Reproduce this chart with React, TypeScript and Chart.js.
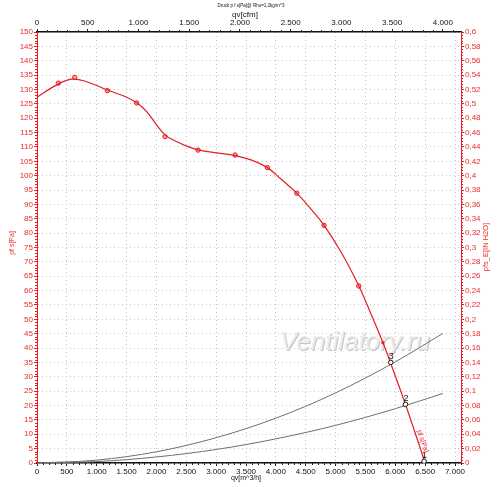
import React, { useEffect, useRef } from 'react';
import { Chart, registerables } from 'chart.js';

Chart.register(...registerables);

// ---- data ----
const curveFlow = [0, 330, 581, 832, 1178, 1502, 1670, 1837, 2005, 2144, 2283, 2507, 2700, 3010, 3317, 3596, 3858, 4070, 4350, 4573, 4807, 5103, 5389, 5600, 5790, 6000, 6200, 6500];
const curvePressure = [127.3, 131.6, 133.6, 132.7, 129.8, 127.3, 125.4, 122.3, 117.6, 114.2, 112.4, 110.3, 109.0, 107.9, 107.0, 105.4, 102.8, 99.1, 93.9, 88.7, 82.7, 73.0, 61.6, 51.5, 42.0, 30.3, 18.6, 0];

const measFlow = [357, 631, 1178, 1670, 2144, 2697, 3317, 3858, 4350, 4807, 5389];
const measPressure = [132.2, 134.2, 129.6, 125.3, 113.6, 108.9, 107.2, 102.8, 93.9, 82.7, 61.6];

const extraFlow = [5790];
const extraPressure = [41.9];

const sysFlow = [0, 1000, 2000, 3000, 4000, 5000, 6000, 6796];
const sysHigh = [0, 1.0, 3.9, 8.8, 15.6, 24.4, 35.2, 45.1];
const sysLow = [0, 0.5, 2.1, 4.7, 8.4, 13.1, 18.9, 24.2];

const opFlow = [6482, 6170, 5924];
const opPressure = [0.6, 20.4, 35.0];
const opLabels = ['1', '2', '3'];

// tick values
const flowTicks = [0, 500, 1000, 1500, 2000, 2500, 3000, 3500, 4000, 4500, 5000, 5500, 6000, 6500, 7000];
const cfmTicks = [0, 500, 1000, 1500, 2000, 2500, 3000, 3500, 4000];
const paTicks = [0, 5, 10, 15, 20, 25, 30, 35, 40, 45, 50, 55, 60, 65, 70, 75, 80, 85, 90, 95, 100, 105, 110, 115, 120, 125, 130, 135, 140, 145, 150];
const inTicks = [0, 0.02, 0.04, 0.06, 0.08, 0.1, 0.12, 0.14, 0.16, 0.18, 0.2, 0.22, 0.24, 0.26, 0.28, 0.3, 0.32, 0.34, 0.36, 0.38, 0.4, 0.42, 0.44, 0.46, 0.48, 0.5, 0.52, 0.54, 0.56, 0.58, 0.6];

// axes
const FLOW_MAX = 7100; // m^3/h
const M3H_PER_CFM = 1.699;
const CFM_MAX = FLOW_MAX / M3H_PER_CFM;
const PA_MAX = 150;
const INH2O_MAX = 0.6;

const titleText = 'Druck p f s[Pa]@ Rho=1,2kg/m^3';
const topTitle = 'qv[cfm]';
const bottomTitle = 'qv[m^3/h]';
const leftTitle = 'pf s[Pa]';
const rightTitle = 'pfs_E[IN H2O]';
const lineTag = 'pf s[Pa]';
const watermark = 'Ventilatory.ru';

const RED = '#e31e24';
const RED_TXT = '#ee2a2a';
const FONT = "'Liberation Sans', Arial, sans-serif";

const pts = (xs: number[], ys: number[]) => xs.map((x, i) => ({ x, y: ys[i] }));
const setTicks = (vals: number[]) => (s: any) => { s.ticks = vals.map((value) => ({ value })); };

const fmtThousands = (v: number) => {
  const n = Math.round(v);
  if (n >= 1000) return Math.floor(n / 1000) + '.' + String(n % 1000).padStart(3, '0');
  return String(n);
};
const fmtComma = (v: number) => String(Math.round(v * 1000) / 1000).replace('.', ',');

const decor = {
  id: 'decor',
  beforeDatasetsDraw(chart: any) {
    const ctx = chart.ctx;
    ctx.save();
    ctx.font = `italic 26px ${FONT}`;
    ctx.textAlign = 'center';
    ctx.textBaseline = 'alphabetic';
    ctx.fillStyle = '#c4c4c4';
    ctx.fillText(watermark, 356, 351);
    ctx.fillStyle = '#ececec';
    ctx.fillText(watermark, 355, 350);
    ctx.restore();
  },
  afterDraw(chart: any) {
    const ctx = chart.ctx;
    const { x, x2, y, y2 } = chart.scales;
    ctx.save();
    ctx.lineWidth = 1;
    // minor ticks
    ctx.strokeStyle = RED;
    for (let v = 0; v <= PA_MAX; v += 1) {
      if (v % 5 === 0) continue;
      const py = Math.round(y.getPixelForValue(v)) + 0.5;
      ctx.beginPath(); ctx.moveTo(y.right - 2, py); ctx.lineTo(y.right, py); ctx.stroke();
    }
    for (let i = 0; i <= 150; i++) {
      if (i % 5 === 0) continue;
      const py = Math.round(y2.getPixelForValue(i * 0.004)) + 0.5;
      ctx.beginPath(); ctx.moveTo(y2.left, py); ctx.lineTo(y2.left + 2, py); ctx.stroke();
    }
    ctx.strokeStyle = '#222';
    for (let v = 0; v <= FLOW_MAX; v += 100) {
      if (v % 500 === 0) continue;
      const px = Math.round(x.getPixelForValue(v)) + 0.5;
      ctx.beginPath(); ctx.moveTo(px, x.top); ctx.lineTo(px, x.top + 2); ctx.stroke();
    }
    for (let v = 0; v <= CFM_MAX; v += 100) {
      if (v % 500 === 0) continue;
      const px = Math.round(x2.getPixelForValue(v)) + 0.5;
      ctx.beginPath(); ctx.moveTo(px, x2.bottom - 2); ctx.lineTo(px, x2.bottom); ctx.stroke();
    }

    // titles
    ctx.fillStyle = '#111';
    ctx.textAlign = 'center';
    ctx.textBaseline = 'middle';
    ctx.font = `4.5px ${FONT}`;
    ctx.fillText(titleText, 251, 6);
    ctx.font = `8px ${FONT}`;
    ctx.fillText(topTitle, 245, 15);
    ctx.font = `7px ${FONT}`;
    ctx.fillText(bottomTitle, 246, 478);

    ctx.fillStyle = RED_TXT;
    ctx.save();
    ctx.translate(12, 243);
    ctx.rotate(-Math.PI / 2);
    ctx.font = `7px ${FONT}`;
    ctx.fillText(leftTitle, 0, 0);
    ctx.restore();
    ctx.save();
    ctx.translate(486, 247);
    ctx.rotate(-Math.PI / 2);
    ctx.font = `7.5px ${FONT}`;
    ctx.fillText(rightTitle, 0, 0);
    ctx.restore();

    // operating point labels
    ctx.fillStyle = '#111';
    ctx.font = `9px ${FONT}`;
    opFlow.forEach((f, i) => {
      const px = x.getPixelForValue(f);
      const py = y.getPixelForValue(opPressure[i]);
      ctx.fillText(opLabels[i], px + 0.5, py - 6);
    });

    // tag along the red line
    const n = curveFlow.length;
    const ax = x.getPixelForValue(curveFlow[n - 2]);
    const ay = y.getPixelForValue(curvePressure[n - 2]);
    const bx = x.getPixelForValue(curveFlow[n - 1]);
    const by = y.getPixelForValue(curvePressure[n - 1]);
    const ang = Math.atan2(by - ay, bx - ax);
    const t = 0.62;
    ctx.save();
    ctx.translate(ax + (bx - ax) * t, ay + (by - ay) * t);
    ctx.rotate(ang);
    ctx.fillStyle = RED_TXT;
    ctx.font = `7px ${FONT}`;
    ctx.textBaseline = 'bottom';
    ctx.fillText(lineTag, 0, -1);
    ctx.restore();
    ctx.restore();
  },
};

export default function App() {
  const ref = useRef<HTMLCanvasElement | null>(null);
  useEffect(() => {
    if (!ref.current) return;
    const tickFont = { family: FONT, size: 8 };
    const chart = new Chart(ref.current, {
      type: 'line',
      data: {
        datasets: [
          {
            data: pts(opFlow, opPressure),
            showLine: false,
            pointRadius: 2.3,
            pointBackgroundColor: '#ffffff',
            pointBorderColor: '#111',
            pointBorderWidth: 1,
          },
          {
            data: pts(curveFlow, curvePressure),
            borderColor: RED,
            borderWidth: 1.2,
            pointRadius: 0,
            tension: 0.4,
          },
          {
            data: pts(measFlow, measPressure),
            showLine: false,
            pointRadius: 2.2,
            pointBackgroundColor: 'rgba(240,90,90,0.55)',
            pointBorderColor: RED,
            pointBorderWidth: 1,
          },
          {
            data: pts(extraFlow, extraPressure),
            showLine: false,
            pointRadius: 1.6,
            pointBackgroundColor: RED,
            pointBorderColor: RED,
            pointBorderWidth: 0,
          },
          {
            data: pts(sysFlow, sysHigh),
            borderColor: '#6e6e6e',
            borderWidth: 1,
            pointRadius: 0,
            cubicInterpolationMode: 'monotone',
          },
          {
            data: pts(sysFlow, sysLow),
            borderColor: '#6e6e6e',
            borderWidth: 1,
            pointRadius: 0,
            cubicInterpolationMode: 'monotone',
          },
        ] as any,
      },
      options: {
        animation: false,
        responsive: false,
        maintainAspectRatio: false,
        layout: { padding: 0 },
        plugins: { legend: { display: false }, tooltip: { enabled: false }, title: { display: false } },
        scales: {
          x: {
            type: 'linear',
            position: 'bottom',
            min: 0,
            max: FLOW_MAX,
            afterFit: (s: any) => { s.height = 24; },
            afterBuildTicks: setTicks(flowTicks),
            ticks: { autoSkip: false, maxRotation: 0, padding: 1, color: '#111', font: tickFont, callback: (v: any) => fmtThousands(Number(v)) },
            grid: { color: '#c4c4c4', lineWidth: 1, tickLength: 3, tickColor: '#222', tickBorderDash: [] },
            border: { color: '#111', width: 1.5, dash: [1, 3] },
          },
          x2: {
            type: 'linear',
            position: 'top',
            min: 0,
            max: CFM_MAX,
            afterFit: (s: any) => { s.height = 32; },
            afterBuildTicks: setTicks(cfmTicks),
            ticks: { autoSkip: false, maxRotation: 0, padding: 1, color: '#111', font: tickFont, callback: (v: any) => fmtThousands(Number(v)) },
            grid: { drawOnChartArea: false, tickLength: 3, tickColor: '#222' },
            border: { color: '#111', width: 1.5 },
          },
          y: {
            type: 'linear',
            position: 'left',
            min: 0,
            max: PA_MAX,
            afterFit: (s: any) => { s.width = 37; },
            afterBuildTicks: setTicks(paTicks),
            ticks: { autoSkip: false, padding: 1, color: RED_TXT, font: tickFont, callback: (v: any) => String(v) },
            grid: { color: '#c4c4c4', lineWidth: 1, tickLength: 3, tickColor: RED, tickBorderDash: [] },
            border: { color: RED, width: 1, dash: [1, 3] },
          },
          y2: {
            type: 'linear',
            position: 'right',
            min: 0,
            max: INH2O_MAX,
            afterFit: (s: any) => { s.width = 39; },
            afterBuildTicks: setTicks(inTicks),
            ticks: { autoSkip: false, padding: 1, color: RED_TXT, font: tickFont, callback: (v: any) => fmtComma(Number(v)) },
            grid: { drawOnChartArea: false, tickLength: 3, tickColor: RED },
            border: { color: RED, width: 1 },
          },
        },
      } as any,
      plugins: [decor],
    });
    return () => chart.destroy();
  }, []);
  return (
    <div style={{ position: 'fixed', left: 0, top: 0, width: 500, height: 487, background: '#fff' }}>
      <canvas ref={ref} width={500} height={487} style={{ display: 'block', width: 500, height: 487 }} />
    </div>
  );
}
